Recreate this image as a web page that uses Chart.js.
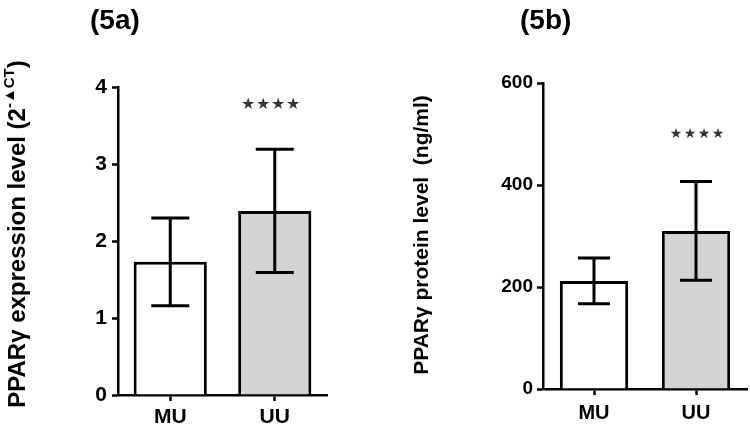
<!DOCTYPE html>
<html><head><meta charset="utf-8">
<script src="https://cdn.jsdelivr.net/npm/chart.js@4.4.1/dist/chart.umd.min.js"></script>
<style>
html,body{margin:0;padding:0;background:#fff;}
#wrap{position:relative;width:750px;height:431px;overflow:hidden;background:#fff;}
#ca{position:absolute;left:0;top:0;}
#cb{position:absolute;left:380px;top:0;}
</style></head><body>
<div id="wrap">
<canvas id="ca" width="340" height="431"></canvas>
<canvas id="cb" width="370" height="431"></canvas>
</div>
<script>
// ---- data ----
const categories = ['MU', 'UU'];
const expressionMean = [1.73, 2.39];
const expressionErr = [0.57, 0.80];
const proteinMean = [212, 310];
const proteinErr = [45, 97];
const expressionTicks = [0, 1, 2, 3, 4];
const proteinTicks = [0, 200, 400, 600];
const significance = ['', '****'];
const barFills = ['#ffffff', '#d3d3d3'];
const panelTitles = ['(5a)', '(5b)'];

const FONT = '"Liberation Sans", Arial, sans-serif';

const errorPlugin = {
  id: 'errorBars',
  afterDatasetsDraw(chart, args, opts) {
    const ctx = chart.ctx;
    const meta = chart.getDatasetMeta(0);
    const ys = chart.scales.y;
    ctx.save();
    ctx.strokeStyle = '#000';
    ctx.lineWidth = opts.lineWidth;
    ctx.lineCap = 'butt';
    meta.data.forEach((el, i) => {
      const m = opts.mean[i], e = opts.err[i];
      const yt = ys.getPixelForValue(m + e);
      const yb = ys.getPixelForValue(m - e);
      const x = el.x;
      ctx.beginPath();
      ctx.moveTo(x, yt); ctx.lineTo(x, yb);
      ctx.moveTo(x - opts.cap, yt); ctx.lineTo(x + opts.cap, yt);
      ctx.moveTo(x - opts.cap, yb); ctx.lineTo(x + opts.cap, yb);
      ctx.stroke();
      const s = opts.sig[i];
      if (s) {
        ctx.fillStyle = '#333';
        ctx.font = opts.starFont;
        ctx.textAlign = 'center';
        ctx.textBaseline = 'middle';
        const n = s.length;
        for (let k = 0; k < n; k++) {
          ctx.fillText('★', x - (n - 1) / 2 * opts.starGap + k * opts.starGap + opts.starDx, yt - opts.starOffset);
        }
      }
    });
    ctx.restore();
  },
  afterDraw(chart, args, opts) {
    const ctx = chart.ctx;
    ctx.save();
    ctx.fillStyle = '#000';
    // panel title
    ctx.font = opts.titleFont;
    ctx.textAlign = 'left';
    ctx.textBaseline = 'middle';
    ctx.fillText(opts.title, opts.titleX, opts.titleY);
    // y axis title (rotated) with optional superscript
    ctx.translate(opts.yTitleX, opts.yTitleY);
    ctx.rotate(-Math.PI / 2);
    ctx.font = opts.yFont;
    const w1 = ctx.measureText(opts.yMain).width;
    ctx.font = opts.ySupFont;
    const w2 = opts.ySup ? ctx.measureText(opts.ySup).width : 0;
    ctx.font = opts.yFont;
    const w3 = opts.yEnd ? ctx.measureText(opts.yEnd).width : 0;
    let x = -(w1 + w2 + w3) / 2;
    ctx.textBaseline = 'middle';
    ctx.textAlign = 'left';
    ctx.fillText(opts.yMain, x, 0);
    x += w1;
    if (opts.ySup) {
      ctx.font = opts.ySupFont;
      ctx.fillText(opts.ySup, x, -8);
      x += w2;
      ctx.font = opts.yFont;
      ctx.fillText(opts.yEnd, x, 0);
    }
    ctx.restore();
  }
};

function makeChart(id, cfg) {
  return new Chart(document.getElementById(id), {
    type: 'bar',
    data: {
      labels: categories,
      datasets: [{
        data: cfg.mean,
        backgroundColor: barFills,
        borderColor: '#000',
        borderWidth: 3,
        borderSkipped: 'bottom',
        barPercentage: cfg.barPct,
        categoryPercentage: 1
      }]
    },
    options: {
      responsive: false,
      animation: false,
      devicePixelRatio: 1,
      layout: { padding: cfg.padding },
      plugins: {
        legend: { display: false },
        tooltip: { enabled: false },
        title: { display: false },
        errorBars: {
          mean: cfg.mean, err: cfg.err, sig: significance, cap: cfg.cap, lineWidth: 3,
          starFont: cfg.starFont, starGap: cfg.starGap, starOffset: cfg.starOffset, starDx: cfg.starDx,
          title: cfg.title, titleX: cfg.titleX, titleY: cfg.titleY, titleFont: cfg.titleFont,
          yMain: cfg.yMain, ySup: cfg.ySup, yEnd: cfg.yEnd, yFont: cfg.yFont, ySupFont: cfg.ySupFont,
          yTitleX: cfg.yTitleX, yTitleY: cfg.yTitleY
        }
      },
      scales: {
        x: {
          offset: true,
          grid: { display: true, offset: false, drawOnChartArea: false, tickLength: 6, tickWidth: 2.5, tickColor: '#000', color: '#000' },
          border: { display: true, color: '#000', width: 2.5 },
          ticks: { color: '#000', font: { family: FONT, size: cfg.xFontSize, weight: 'bold' }, padding: cfg.xPad },
          afterFit(s) { s.height = cfg.xHeight; }
        },
        y: {
          min: cfg.ticks[0], max: cfg.ticks[cfg.ticks.length - 1],
          afterBuildTicks(s) { s.ticks = cfg.ticks.map(v => ({ value: v })); },
          grid: { display: true, drawOnChartArea: false, tickLength: 6, tickWidth: 2.5, tickColor: '#000', color: '#000' },
          border: { display: true, color: '#000', width: 2.5 },
          ticks: { color: '#000', font: { family: FONT, size: cfg.yFontSize, weight: 'bold' }, padding: cfg.yPad },
          afterFit(s) { s.width = cfg.yWidth; }
        }
      }
    },
    plugins: [errorPlugin]
  });
}

makeChart('ca', {
  mean: expressionMean, err: expressionErr, ticks: expressionTicks,
  barPct: 0.70, cap: 19,
  padding: { top: 87, right: 13, left: 0, bottom: 0 },
  xHeight: 36, yWidth: 118, xFontSize: 21, yFontSize: 21, xPad: 4, yPad: 5,
  starFont: '16px "DejaVu Sans"', starGap: 15, starOffset: 45, starDx: -4,
  title: panelTitles[0], titleX: 90, titleY: 21, titleFont: 'bold 28px ' + FONT,
  yMain: 'PPARγ expression level (2', ySup: '-▲CT', yEnd: ')',
  yFont: 'bold 24px ' + FONT, ySupFont: 'bold 15px ' + FONT,
  yTitleX: 18, yTitleY: 234
});

makeChart('cb', {
  mean: proteinMean, err: proteinErr, ticks: proteinTicks,
  barPct: 0.67, cap: 16,
  padding: { top: 83, right: 3, left: 0, bottom: 0 },
  xHeight: 42, yWidth: 163, xFontSize: 20, yFontSize: 19, xPad: 6, yPad: 4,
  starFont: '14px "DejaVu Sans"', starGap: 14, starOffset: 47, starDx: 1,
  title: panelTitles[1], titleX: 140, titleY: 21, titleFont: 'bold 28px ' + FONT,
  yMain: 'PPARγ protein level  (ng/ml)', ySup: '', yEnd: '',
  yFont: 'bold 21px ' + FONT, ySupFont: 'bold 12px ' + FONT,
  yTitleX: 42, yTitleY: 235
});
</script>
</body></html>
